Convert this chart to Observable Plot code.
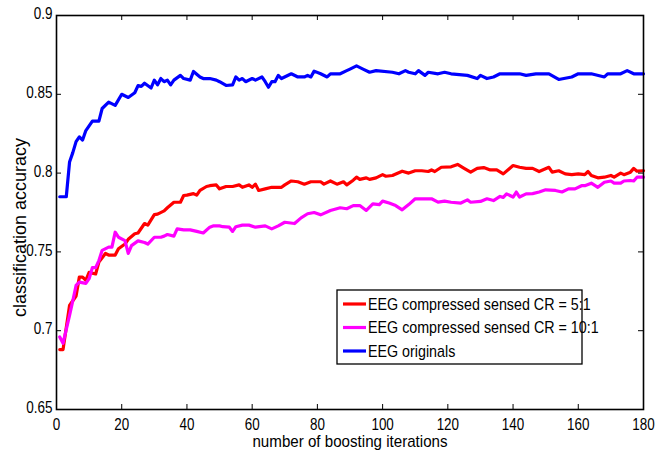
<!DOCTYPE html>
<html>
<head>
<meta charset="utf-8">
<script src="https://cdn.jsdelivr.net/npm/d3@7"></script>
<script src="https://cdn.jsdelivr.net/npm/@observablehq/plot@0.6"></script>
<style>
  html, body { margin: 0; padding: 0; background: #fff; }
  #chart { width: 664px; height: 454px; }
</style>
</head>
<body>
<div id="chart"></div>
<script>
const seriesNames = ["EEG compressed sensed CR = 5:1", "EEG compressed sensed CR = 10:1", "EEG originals"];
const seriesColors = ["#ff0000", "#ff00ff", "#0000ff"];
const xTicks = [0, 20, 40, 60, 80, 100, 120, 140, 160, 180];
const yTicks = [0.65, 0.7, 0.75, 0.8, 0.85, 0.9];
const xLabel = "number of boosting iterations";
const yLabel = "classification accuracy";

const origIter = [1,3,4,5,6,7,8,9,11,13,14,16,18,20,22,24,25,26,27,29,30,31,32,33,34,35,36,38,39,41,42,44,45,47,49,50,52,54,55,56,57,58,60,61,63,64,65,66,67,68,69,72,74,76,77,78,79,81,83,84,85,87,89,90,92,94,96,98,103,105,107,108,110,111,113,114,117,119,121,126,129,130,132,134,136,139,142,144,147,151,154,158,160,164,168,169,173,175,177,180];
const origAcc = [0.785,0.785,0.807,0.813,0.820,0.823,0.821,0.827,0.833,0.833,0.841,0.845,0.843,0.850,0.848,0.851,0.8555,0.855,0.857,0.854,0.859,0.856,0.860,0.858,0.859,0.856,0.859,0.862,0.860,0.859,0.8645,0.861,0.860,0.860,0.859,0.858,0.8556,0.856,0.861,0.859,0.860,0.858,0.860,0.859,0.861,0.858,0.8545,0.858,0.858,0.862,0.860,0.863,0.861,0.861,0.862,0.861,0.8647,0.863,0.861,0.863,0.863,0.863,0.865,0.866,0.868,0.866,0.864,0.865,0.864,0.863,0.865,0.864,0.863,0.865,0.862,0.864,0.863,0.864,0.863,0.862,0.860,0.862,0.860,0.861,0.863,0.863,0.863,0.862,0.863,0.863,0.8594,0.861,0.863,0.863,0.861,0.863,0.863,0.865,0.863,0.863];

const cr5Iter = [1,2,4,5,6,7,8,9,10,12,13,15,16,18,19,21,22,24,25,27,28,30,31,33,34,36,38,39,40,42,43,44,46,47,49,50,52,54,56,57,59,60,61,62,64,66,69,70,72,74,76,78,81,82,84,86,88,89,91,92,93,95,96,98,100,101,103,106,108,110,112,114,115,116,118,121,123,125,127,129,131,133,135,137,140,142,144,146,148,151,152,154,156,158,160,162,163,164,166,168,170,171,173,174,176,177,178,180];
const cr5Acc = [0.688,0.688,0.716,0.719,0.722,0.734,0.734,0.732,0.737,0.736,0.7435,0.749,0.748,0.748,0.752,0.755,0.758,0.7615,0.762,0.768,0.767,0.7737,0.774,0.776,0.778,0.7815,0.7815,0.7858,0.786,0.787,0.786,0.789,0.7915,0.792,0.7925,0.790,0.7915,0.7915,0.7925,0.791,0.7925,0.791,0.793,0.789,0.790,0.791,0.791,0.7925,0.795,0.7945,0.793,0.7945,0.7945,0.793,0.795,0.793,0.7945,0.7925,0.7955,0.7974,0.796,0.797,0.796,0.797,0.799,0.798,0.7985,0.8012,0.800,0.8015,0.8015,0.801,0.802,0.801,0.8037,0.804,0.8055,0.803,0.8006,0.803,0.8035,0.802,0.802,0.7995,0.8048,0.8037,0.803,0.803,0.801,0.8037,0.8006,0.8015,0.7995,0.799,0.7995,0.799,0.801,0.7985,0.797,0.7974,0.7985,0.7974,0.800,0.799,0.8006,0.803,0.8012,0.8015];

const cr10Iter = [1,2,4,5,6,7,9,10,11,12,13,14,16,17,18,19,21,22,23,25,27,28,30,32,33,34,36,37,39,41,43,45,47,48,50,51,53,54,55,57,59,61,64,66,68,70,73,75,77,79,81,84,87,89,91,93,95,97,99,100,102,104,106,108,110,113,115,117,119,121,124,126,127,130,132,134,136,137,138,140,141,142,144,146,148,150,153,155,157,159,161,162,164,166,168,170,171,173,174,176,177,178,180];
const cr10Acc = [0.696,0.692,0.7097,0.719,0.7287,0.7308,0.730,0.733,0.740,0.740,0.7445,0.751,0.753,0.753,0.7625,0.7593,0.7572,0.749,0.754,0.757,0.756,0.755,0.7593,0.7593,0.760,0.761,0.760,0.7646,0.764,0.764,0.763,0.762,0.7657,0.7665,0.7665,0.766,0.7657,0.763,0.766,0.767,0.767,0.7657,0.7665,0.7646,0.7665,0.7688,0.768,0.7716,0.7742,0.775,0.7735,0.7763,0.778,0.7774,0.7794,0.7794,0.7763,0.7805,0.780,0.7822,0.781,0.7794,0.7767,0.780,0.7837,0.7837,0.7837,0.7816,0.7822,0.7815,0.781,0.783,0.7815,0.782,0.7837,0.7826,0.7852,0.7846,0.7868,0.7848,0.788,0.7848,0.7868,0.787,0.788,0.7894,0.789,0.788,0.790,0.790,0.792,0.792,0.7936,0.791,0.7942,0.795,0.7936,0.7936,0.795,0.7953,0.795,0.7974,0.7974];

const toRows = (xs, ys, name) => xs.map((x, i) => ({iter: x, acc: ys[i], series: name}));
const rows = [
  ...toRows(cr5Iter, cr5Acc, seriesNames[0]),
  ...toRows(cr10Iter, cr10Acc, seriesNames[1]),
  ...toRows(origIter, origAcc, seriesNames[2])
];

const W = 664, H = 454;
const mL = 56, mR = 21, mT = 15, mB = 45;
const innerW = W - mL - mR, innerH = H - mT - mB;
const font = "'Liberation Sans', Arial, sans-serif";
const tickLen = 5;

const chart = Plot.plot({
  width: W, height: H,
  marginLeft: mL, marginRight: mR, marginTop: mT, marginBottom: mB,
  style: {background: "#fff", color: "#000", fontFamily: font},
  x: {domain: [0, 180]},
  y: {domain: [0.65, 0.9]},
  color: {domain: seriesNames, range: seriesColors},
  marks: [
    Plot.line(rows, {x: "iter", y: "acc", z: "series", stroke: "series", strokeWidth: 3.2, strokeLinejoin: "round"}),
    Plot.tickX(xTicks, {x: d => d, stroke: "#000", strokeWidth: 1, insetTop: innerH - tickLen}),
    Plot.tickX(xTicks, {x: d => d, stroke: "#000", strokeWidth: 1, insetBottom: innerH - tickLen}),
    Plot.tickY(yTicks, {y: d => d, stroke: "#000", strokeWidth: 1, insetRight: innerW - tickLen}),
    Plot.tickY(yTicks, {y: d => d, stroke: "#000", strokeWidth: 1, insetLeft: innerW - tickLen}),
    Plot.frame({stroke: "#000", strokeWidth: 1.6}),
    Plot.axisX({ticks: xTicks, tickSize: 0, tickPadding: 9, fontSize: 16, label: null, tickFormat: d => String(d), className: "squish"}),
    Plot.axisY({ticks: yTicks, tickSize: 0, tickPadding: 4, dy: -1.5, fontSize: 16, label: null, tickFormat: d => String(d), className: "squish"}),
    Plot.text([xLabel], {frameAnchor: "bottom", dy: 37, fontSize: 17, fill: "#000", className: "squish-wide"}),
    Plot.text([yLabel], {frameAnchor: "left", textAnchor: "middle", rotate: -90, dx: -36, dy: 15, fontSize: 18, fill: "#000"})
  ]
});

document.getElementById("chart").appendChild(chart);

// Legend box (MATLAB-style, inside the axes)
const svg = d3.select(chart);
const lg = svg.append("g").attr("class", "squish").attr("transform", "translate(337,290)").attr("text-anchor", "start");
lg.append("rect").attr("width", 245).attr("height", 74).attr("fill", "#fff").attr("stroke", "#000").attr("stroke-width", 1.3);
seriesNames.forEach((name, i) => {
  const yy = 14 + i * 23.5;
  lg.append("line").attr("x1", 6).attr("x2", 29).attr("y1", yy).attr("y2", yy)
    .attr("stroke", seriesColors[i]).attr("stroke-width", 3.2);
  lg.append("text").attr("x", 31).attr("y", yy).attr("dy", "0.35em")
    .attr("font-size", 17).attr("fill", "#000").text(name);
});

// Condensed glyphs like the reference's narrow face
function squish(selector, f) {
  svg.selectAll(selector).each(function() {
    const len = this.getComputedTextLength();
    if (len > 0) {
      this.setAttribute("textLength", (len * f).toFixed(1));
      this.setAttribute("lengthAdjust", "spacingAndGlyphs");
    }
  });
}
squish(".squish text", 0.84);
squish(".squish-wide text", 0.89);
</script>
</body>
</html>
